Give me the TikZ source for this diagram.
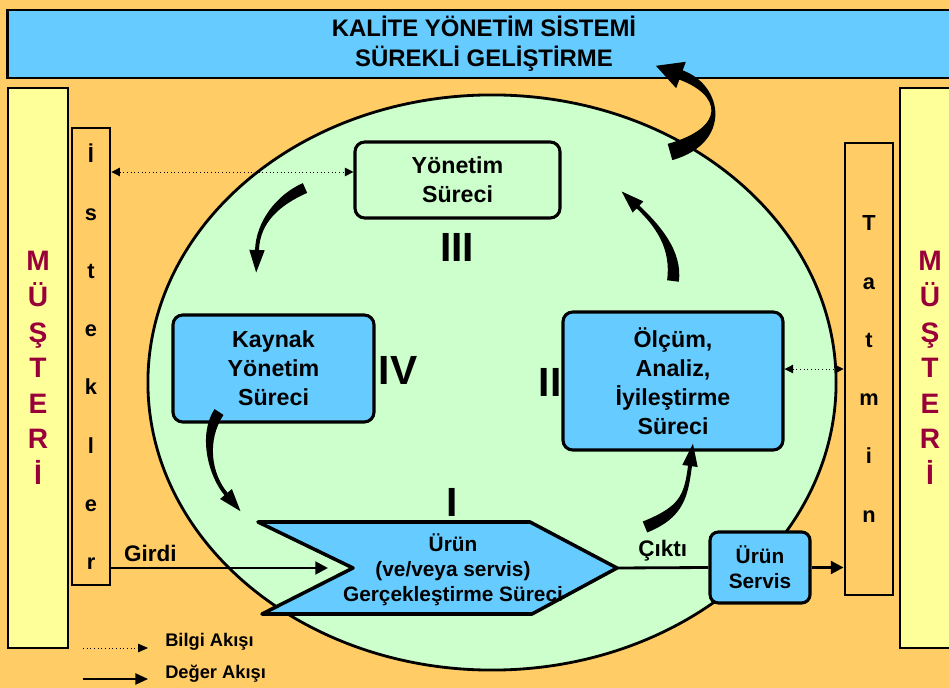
\documentclass[tikz,border=0pt]{standalone}
\usepackage{fontspec}
\setmainfont{Liberation Sans}
\usepackage{tikz}
\usepackage{tkz-euclide}
\usetikzlibrary{calc}
\usetikzlibrary{positioning}
\usetikzlibrary{arrows.meta}

\definecolor{bgorange}{HTML}{FFCC66}
\definecolor{skyblue}{HTML}{66CCFF}
\definecolor{mintgreen}{HTML}{CCFFCC}
\definecolor{paleyellow}{HTML}{FFFF99}
\definecolor{darkred}{HTML}{99003A}

% tapered curved arrow: (P0)(P1)(P2)(P3), tail, neck, head width, head length
\newcommand{\cyclearrow}[8]{%
  \fill[black] ($(#1)!#5!90:(#2)$)
    .. controls ($(#2)!#5!-90:(#1)$) and ($(#3)!#6!90:(#4)$) .. ($(#4)!#6!-90:(#3)$)
    -- ($(#4)!#7!-90:(#3)$) -- ($(#4)!#8!180:(#3)$) -- ($(#4)!#7!90:(#3)$)
    -- ($(#4)!#6!90:(#3)$)
    .. controls ($(#3)!#6!-90:(#4)$) and ($(#2)!#5!90:(#1)$) .. ($(#1)!#5!-90:(#2)$)
    -- cycle;
}

\begin{document}
\begin{tikzpicture}[%
  >={Triangle[scale=1.0]},
  x=0.025cm, y=-0.025cm,
  procbox/.style={draw, line width=2.2pt, rounded corners=7pt, fill=skyblue,
    align=center, inner sep=0pt, font=\bfseries\fontsize{16.5}{20.5}\selectfont},
  custbar/.style={draw, line width=2pt, fill=paleyellow, minimum width=1.5cm,
    minimum height=14cm, inner sep=0pt, align=center, text=darkred,
    font=\bfseries\fontsize{20}{25.3}\selectfont},
  letterbar/.style={draw, line width=2pt, fill=bgorange, inner sep=0pt,
    align=center, font=\bfseries\fontsize{15.5}{41.4}\selectfont},
  roman/.style={inner sep=0pt, font=\bfseries\fontsize{29}{32}\selectfont},
  flowlabel/.style={font=\bfseries\fontsize{16}{19}\selectfont},
  legendtext/.style={anchor=west, inner sep=0pt, font=\bfseries\fontsize{13}{15}\selectfont},
  bilgi/.style={dotted, line width=0.6pt},
  deger/.style={line width=2pt, -{Triangle[length=9pt,width=9pt]}},
]

  \useasboundingbox (0,0) rectangle (949,688);
  \clip (0,0) rectangle (949,688);
  \fill[bgorange] (0,0) rectangle (949,688);

  \node[draw, line width=2pt, fill=skyblue, minimum width=23.8cm, minimum height=1.7cm,
    align=center, font=\bfseries\fontsize{17}{21}\selectfont]
    (title) at (484,44) {KALİTE YÖNETİM SİSTEMİ\\SÜREKLİ GELİŞTİRME};

  \node[custbar] (musteriL) at (38,368) {M\\Ü\\Ş\\T\\E\\R\\İ};
  \node[custbar] (musteriR) at (930,368) {M\\Ü\\Ş\\T\\E\\R\\İ};
  \node[letterbar, minimum width=0.95cm, minimum height=11.425cm]
    (istekler) at (91,356.5) {İ\\s\\t\\e\\k\\l\\e\\r};
  \node[letterbar, minimum width=1.2cm, minimum height=11.3cm]
    (tatmin) at (869,369) {T\\a\\t\\m\\i\\n};

  \draw[line width=2pt, fill=mintgreen] (492,382.5) ellipse [x radius=8.6cm, y radius=7.1875cm];

  \node[procbox, fill=mintgreen, minimum width=5.125cm, minimum height=1.9cm]
    (yonetim) at (457.5,180) {Yönetim\\Süreci};
  \node[procbox, minimum width=5.025cm, minimum height=2.675cm]
    (kaynak) at (273.5,368.5) {Kaynak\\Yönetim\\Süreci};
  \node[procbox, minimum width=5.5cm, minimum height=3.45cm]
    (olcum) at (673,381) {Ölçüm,\\Analiz,\\İyileştirme\\Süreci};
  \node[procbox, rounded corners=6pt, minimum width=2.5cm, minimum height=1.775cm,
    font=\bfseries\fontsize{14.8}{17.7}\selectfont]
    (servis) at (760,567.5) {Ürün\\Servis};

  \tkzDefPoint(258,522){uTL}
  \tkzDefPoint(530,522){uTR}
  \tkzDefPoint(617,568){uTip}
  \tkzDefPoint(532,614){uBR}
  \tkzDefPoint(262,614){uBL}
  \tkzDefPoint(353,568){uNotch}
  \tkzDrawPolygon[line width=2.5pt, fill=skyblue](uTL,uTR,uTip,uBR,uBL,uNotch)
  \node[align=center, font=\bfseries\fontsize{14.8}{17.7}\selectfont]
    (urun) at (453,570) {Ürün\\(ve/veya servis)\\Gerçekleştirme Süreci};

  \node[roman] (romanI) at (452,502) {I};
  \node[roman] (romanII) at (550,382) {II};
  \node[roman] (romanIII) at (457,247) {III};
  \node[roman] (romanIV) at (398,370) {IV};

  % value flow
  \draw[deger] (istekler.east |- uNotch) -- ($(uNotch)+(-25,0)$)
    node[flowlabel, pos=0.18, above] {Girdi};
  \draw[line width=2pt] (uTip) -- (servis.west)
    node[flowlabel, midway, above] {Çıktı};
  \draw[deger] (servis.east) -- (tatmin.west |- servis.east);

  % information flow
  \coordinate (infoY) at ([yshift=5.7pt]yonetim.west);
  \coordinate (infoO) at ([yshift=8.5pt]olcum.east);
  \draw[bilgi, {Triangle[length=6pt,width=6pt]}-{Triangle[length=6pt,width=6pt]}]
    (istekler.east |- infoY) -- (infoY);
  \draw[bilgi, {Triangle[length=6pt,width=6pt]}-{Triangle[length=6pt,width=6pt]}]
    (infoO) -- (tatmin.west |- infoO);

  % cycle arrows
  \tkzDefPoint(670,152){aP0}
  \tkzDefPoint(730,135){aP1}
  \tkzDefPoint(722,90){aP2}
  \tkzDefPoint(681,75){aP3}
  \cyclearrow{aP0}{aP1}{aP2}{aP3}{6pt}{3.5pt}{10pt}{19pt}

  \tkzDefPoint(305,188){bP0}
  \tkzDefPoint(278,200){bP1}
  \tkzDefPoint(258,222){bP2}
  \tkzDefPoint(257,250){bP3}
  \cyclearrow{bP0}{bP1}{bP2}{bP3}{3.8pt}{1.4pt}{5.5pt}{16pt}

  \tkzDefPoint(219,412){cP0}
  \tkzDefPoint(202,438){cP1}
  \tkzDefPoint(210,475){cP2}
  \tkzDefPoint(226,494){cP3}
  \cyclearrow{cP0}{cP1}{cP2}{cP3}{3.8pt}{1.4pt}{5.5pt}{16pt}

  \tkzDefPoint(645,527){dP0}
  \tkzDefPoint(682,512){dP1}
  \tkzDefPoint(686,496){dP2}
  \tkzDefPoint(690,466){dP3}
  \cyclearrow{dP0}{dP1}{dP2}{dP3}{4.2pt}{1.4pt}{5.5pt}{16pt}

  \tkzDefPoint(673,281){eP0}
  \tkzDefPoint(677,250){eP1}
  \tkzDefPoint(658,226){eP2}
  \tkzDefPoint(638,207){eP3}
  \cyclearrow{eP0}{eP1}{eP2}{eP3}{4.2pt}{1.4pt}{5.5pt}{16pt}

  % legend
  \coordinate (lgA1) at (83,648);
  \coordinate (lgA2) at (148,648);
  \coordinate (lgB1) at (83,679);
  \coordinate (lgB2) at (148,679);
  \draw[bilgi, -{Triangle[length=7pt,width=6pt]}] (lgA1) -- (lgA2);
  \draw[line width=1.2pt, -{Triangle[length=9pt,width=8pt]}] (lgB1) -- (lgB2);
  \node[legendtext] (lgBilgi) at (165,642) {Bilgi Akışı};
  \node[legendtext] (lgDeger) at (165,674) {Değer Akışı};

\end{tikzpicture}
\end{document}
